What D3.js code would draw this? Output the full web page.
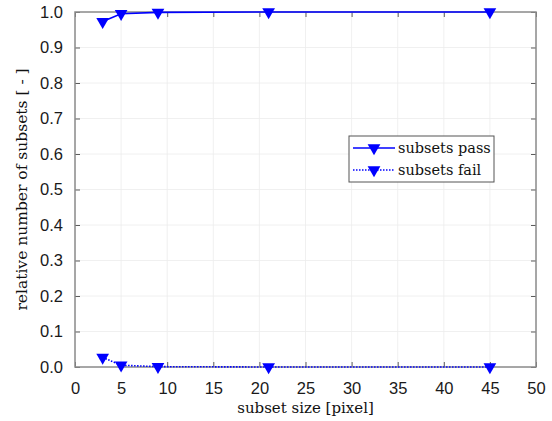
<!DOCTYPE html>
<html>
<head>
<meta charset="utf-8">
<script src="https://cdn.jsdelivr.net/npm/d3@7"></script>
<style>
  html, body { margin: 0; padding: 0; background: #fff; }
  svg { display: block; }
</style>
</head>
<body>
<svg id="chart" width="552" height="421"></svg>
<script>
// Subset sizes (pixels) and the share of subsets passing / failing
const subsetSize = [3, 5, 9, 21, 45];
const passShare = [0.973, 0.995, 0.999, 1.0, 1.0];
const failShare = [0.027, 0.005, 0.001, 0.0, 0.0];
const xTicks = [0, 5, 10, 15, 20, 25, 30, 35, 40, 45, 50];
const yTicks = [0, 0.1, 0.2, 0.3, 0.4, 0.5, 0.6, 0.7, 0.8, 0.9, 1.0];
const seriesNames = ["subsets pass", "subsets fail"];

const svg = d3.select("#chart");
const margin = { left: 75, right: 16, top: 12, bottom: 54 };
const W = 552, H = 421;
const x = d3.scaleLinear().domain([0, 50]).range([margin.left, W - margin.right]);
const y = d3.scaleLinear().domain([0, 1]).range([H - margin.bottom, margin.top]);

const blue = "#0000ff";
const frame = "#8c8c8c";

// grid
const grid = svg.append("g");
grid.selectAll(".gx").data(xTicks).join("line")
  .attr("x1", d => x(d)).attr("x2", d => x(d))
  .attr("y1", y(0)).attr("y2", y(1))
  .attr("stroke", "#ececec").attr("stroke-width", 0.8);
grid.selectAll(".gy").data(yTicks).join("line")
  .attr("x1", x(0)).attr("x2", x(50))
  .attr("y1", d => y(d)).attr("y2", d => y(d))
  .attr("stroke", "#ececec").attr("stroke-width", 0.8);

// axes with inward ticks
const tickFont = "'Liberation Sans', Arial, sans-serif";
const xAxis = d3.axisBottom(x).tickValues(xTicks).tickFormat(d3.format("d"))
  .tickSizeInner(-5).tickSizeOuter(0).tickPadding(15);
const yAxis = d3.axisLeft(y).tickValues(yTicks).tickFormat(d3.format(".1f"))
  .tickSizeInner(-5).tickSizeOuter(0).tickPadding(12);

const gx = svg.append("g").attr("transform", `translate(0,${y(0)})`).call(xAxis);
const gy = svg.append("g").attr("transform", `translate(${x(0)},0)`).call(yAxis);
[gx, gy].forEach(g => {
  g.select(".domain").remove();
  g.selectAll(".tick line").attr("stroke", "#333").attr("stroke-width", 0.8);
  g.selectAll(".tick text").attr("fill", "#1a1a1a").style("font-family", tickFont).style("font-size", "16.5px");
});

// top/right ticks
const gxt = svg.append("g").attr("transform", `translate(0,${y(1)})`)
  .call(d3.axisTop(x).tickValues(xTicks).tickFormat("").tickSizeInner(-5).tickSizeOuter(0));
const gyr = svg.append("g").attr("transform", `translate(${x(50)},0)`)
  .call(d3.axisRight(y).tickValues(yTicks).tickFormat("").tickSizeInner(-5).tickSizeOuter(0));
[gxt, gyr].forEach(g => {
  g.select(".domain").remove();
  g.selectAll(".tick line").attr("stroke", "#333").attr("stroke-width", 0.8);
});

// plot frame
svg.append("rect")
  .attr("x", x(0)).attr("y", y(1))
  .attr("width", x(50) - x(0)).attr("height", y(0) - y(1))
  .attr("fill", "none").attr("stroke", frame).attr("stroke-width", 1.5);

// series
const tri = d3.symbol().type(d3.symbolTriangle).size(70);
function drawSeries(values, dash) {
  const pts = subsetSize.map((s, i) => [s, values[i]]);
  svg.append("path").datum(pts)
    .attr("fill", "none").attr("stroke", blue)
    .attr("stroke-width", 1.6)
    .attr("stroke-dasharray", dash)
    .attr("d", d3.line().x(d => x(d[0])).y(d => y(d[1])));
  svg.append("g").selectAll("path").data(pts).join("path")
    .attr("d", tri)
    .attr("fill", blue)
    .attr("transform", d => `translate(${x(d[0])},${y(d[1])}) rotate(180)`);
}
drawSeries(passShare, null);
drawSeries(failShare, "1.5,1.5");

// legend
const serif = "'DejaVu Serif', 'Liberation Serif', serif";
const lg = svg.append("g").attr("transform", "translate(349,136)");
lg.append("rect").attr("width", 145).attr("height", 46)
  .attr("fill", "#fff").attr("stroke", "#555").attr("stroke-width", 1);
seriesNames.forEach((name, i) => {
  const yy = 12 + i * 22;
  lg.append("line").attr("x1", 4).attr("x2", 46).attr("y1", yy).attr("y2", yy)
    .attr("stroke", blue).attr("stroke-width", 1.4)
    .attr("stroke-dasharray", i === 1 ? "1.5,1.5" : null);
  lg.append("path").attr("d", tri).attr("fill", blue)
    .attr("transform", `translate(25,${yy}) rotate(180)`);
  lg.append("text").attr("x", 49).attr("y", yy + 5)
    .style("font-family", serif).style("font-size", "14.5px").attr("fill", "#111")
    .text(name);
});

// axis titles
svg.append("text")
  .attr("x", (x(0) + x(50)) / 2).attr("y", 413)
  .attr("text-anchor", "middle")
  .style("font-family", serif).style("font-size", "15px").attr("fill", "#111")
  .text("subset size [pixel]");
svg.append("text")
  .attr("transform", `translate(27,${(y(0) + y(1)) / 2}) rotate(-90)`)
  .attr("text-anchor", "middle")
  .style("font-family", serif).style("font-size", "15.5px").attr("fill", "#111")
  .text("relative number of subsets [ - ]");
</script>
</body>
</html>
